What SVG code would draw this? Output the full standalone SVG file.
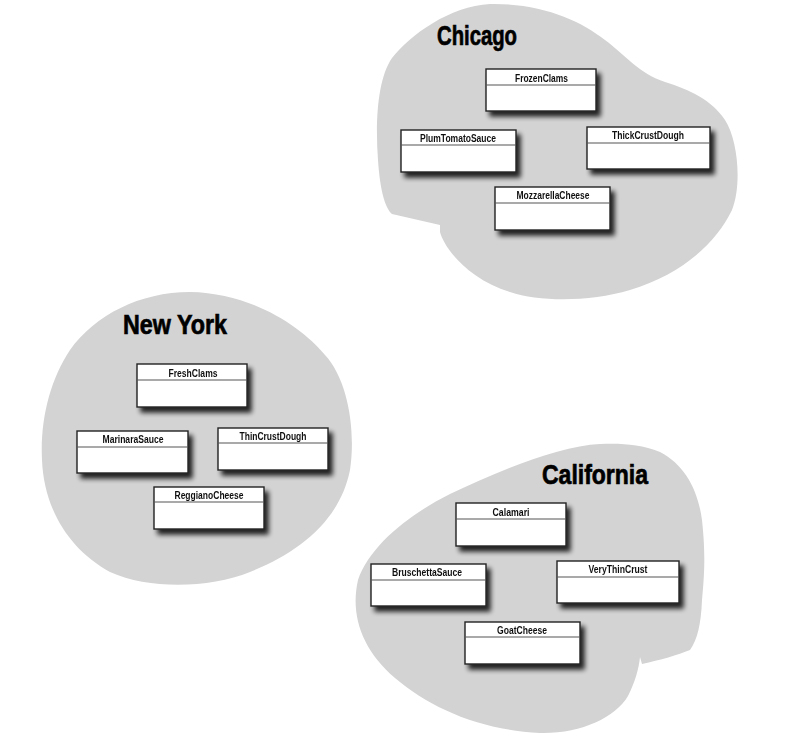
<svg xmlns="http://www.w3.org/2000/svg" width="791" height="756" viewBox="0 0 791 756">
<defs>
<filter id="sh" x="-20%" y="-30%" width="150%" height="180%">
<feGaussianBlur in="SourceAlpha" stdDeviation="2.4"/>
<feOffset dx="4" dy="5" result="b"/>
<feComponentTransfer><feFuncA type="linear" slope="0.85"/></feComponentTransfer>
<feMerge><feMergeNode/><feMergeNode in="SourceGraphic"/></feMerge>
</filter>
<style>
.blob{fill:#d3d3d3;stroke:none}
.box{fill:#fff;stroke:#222;stroke-width:1.4}
.hl{stroke:#555;stroke-width:1.2}
.lbl{font-family:"Liberation Sans",Arial,sans-serif;font-weight:bold;font-size:10.5px;fill:#111;text-anchor:middle}
.ttl{font-family:"Liberation Sans",Arial,sans-serif;font-weight:bold;font-size:28px;fill:#000;stroke:#000;stroke-width:0.7}
</style>
</defs>
<rect width="791" height="756" fill="#fff"/>

<g id="regions">
<path class="blob" d="M 490 4 C 450 6, 410 35, 392 58 C 378 78, 375 120, 378 160 C 380 190, 385 208, 392 214 L 440 225 L 440 232 C 445 250, 470 280, 510 292 C 540 302, 590 302, 630 290 C 680 275, 715 245, 732 210 C 742 185, 738 140, 725 120 C 712 100, 690 90, 665 82 C 640 74, 625 55, 605 40 C 580 20, 540 3, 490 4 Z"/>
<path class="blob" d="M 190 292 C 140 292, 95 315, 70 350 C 50 380, 40 420, 42 460 C 44 510, 70 550, 110 572 C 150 590, 210 588, 250 572 C 300 552, 340 520, 350 470 C 356 430, 348 380, 325 355 C 300 325, 250 293, 190 292 Z"/>
<path class="blob" d="M 600 444 C 560 446, 500 470, 450 494 C 410 514, 370 545, 358 580 C 350 615, 362 650, 395 678 C 430 708, 480 730, 540 733 C 580 734, 615 718, 628 696 C 635 682, 639 668, 640 657 L 642 664 C 660 660, 678 655, 690 650 C 697 640, 701 625, 702 600 C 706 560, 704 540, 702 520 C 698 490, 685 465, 660 452 C 640 444, 620 443, 600 444 Z"/>
</g>

<g id="titles">
<text class="ttl" x="437" y="45" textLength="80" lengthAdjust="spacingAndGlyphs">Chicago</text>
<text class="ttl" x="123" y="334" textLength="104" lengthAdjust="spacingAndGlyphs">New York</text>
<text class="ttl" x="542" y="484" textLength="106" lengthAdjust="spacingAndGlyphs">California</text>
</g>

<g id="connectors"></g>

<g id="FrozenClams" filter="url(#sh)"><rect class="box" x="486" y="69" width="110" height="42"/><line class="hl" x1="486" y1="85" x2="596" y2="85"/><text class="lbl" x="541.5" y="81.5" textLength="53" lengthAdjust="spacingAndGlyphs">FrozenClams</text></g>
<g id="PlumTomatoSauce" filter="url(#sh)"><rect class="box" x="401" y="130" width="115" height="42"/><line class="hl" x1="401" y1="145" x2="516" y2="145"/><text class="lbl" x="458" y="141.5" textLength="76" lengthAdjust="spacingAndGlyphs">PlumTomatoSauce</text></g>
<g id="ThickCrustDough" filter="url(#sh)"><rect class="box" x="587" y="127" width="123" height="42"/><line class="hl" x1="587" y1="143" x2="710" y2="143"/><text class="lbl" x="648" y="139" textLength="72" lengthAdjust="spacingAndGlyphs">ThickCrustDough</text></g>
<g id="MozzarellaCheese" filter="url(#sh)"><rect class="box" x="495" y="187" width="115" height="43"/><line class="hl" x1="495" y1="203" x2="610" y2="203"/><text class="lbl" x="553" y="199" textLength="73" lengthAdjust="spacingAndGlyphs">MozzarellaCheese</text></g>

<g id="FreshClams" filter="url(#sh)"><rect class="box" x="137" y="364" width="110" height="43"/><line class="hl" x1="137" y1="380" x2="247" y2="380"/><text class="lbl" x="193" y="376.5" textLength="49" lengthAdjust="spacingAndGlyphs">FreshClams</text></g>
<g id="MarinaraSauce" filter="url(#sh)"><rect class="box" x="77" y="431" width="111" height="42"/><line class="hl" x1="77" y1="447" x2="188" y2="447"/><text class="lbl" x="133" y="443" textLength="61" lengthAdjust="spacingAndGlyphs">MarinaraSauce</text></g>
<g id="ThinCrustDough" filter="url(#sh)"><rect class="box" x="218" y="428" width="110" height="42"/><line class="hl" x1="218" y1="443" x2="328" y2="443"/><text class="lbl" x="273" y="440" textLength="67" lengthAdjust="spacingAndGlyphs">ThinCrustDough</text></g>
<g id="ReggianoCheese" filter="url(#sh)"><rect class="box" x="154" y="487" width="110" height="42"/><line class="hl" x1="154" y1="502" x2="264" y2="502"/><text class="lbl" x="209" y="499" textLength="69" lengthAdjust="spacingAndGlyphs">ReggianoCheese</text></g>

<g id="Calamari" filter="url(#sh)"><rect class="box" x="456" y="503" width="110" height="43"/><line class="hl" x1="456" y1="519" x2="566" y2="519"/><text class="lbl" x="511" y="515.5" textLength="37" lengthAdjust="spacingAndGlyphs">Calamari</text></g>
<g id="BruschettaSauce" filter="url(#sh)"><rect class="box" x="371" y="564" width="115" height="42"/><line class="hl" x1="371" y1="580" x2="486" y2="580"/><text class="lbl" x="427" y="576" textLength="70" lengthAdjust="spacingAndGlyphs">BruschettaSauce</text></g>
<g id="VeryThinCrust" filter="url(#sh)"><rect class="box" x="557" y="561" width="122" height="42"/><line class="hl" x1="557" y1="577" x2="679" y2="577"/><text class="lbl" x="618" y="573" textLength="59" lengthAdjust="spacingAndGlyphs">VeryThinCrust</text></g>
<g id="GoatCheese" filter="url(#sh)"><rect class="box" x="465" y="622" width="115" height="42"/><line class="hl" x1="465" y1="637" x2="580" y2="637"/><text class="lbl" x="522" y="634" textLength="50" lengthAdjust="spacingAndGlyphs">GoatCheese</text></g>
</svg>
